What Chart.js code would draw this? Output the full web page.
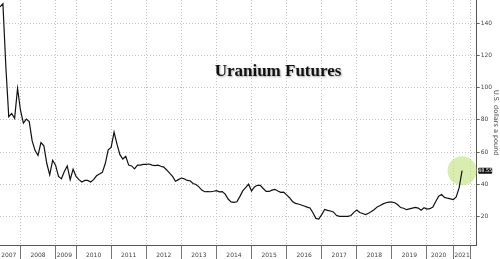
<!DOCTYPE html>
<html>
<head>
<meta charset="utf-8">
<script src="https://cdn.jsdelivr.net/npm/chart.js@4"></script>
<style>
  html, body { margin: 0; padding: 0; background: #fff; }
  #chart { display: block; }
</style>
</head>
<body>
<canvas id="chart" width="500" height="259"></canvas>
<script>
// Uranium futures, U.S. dollars a pound (one value per period, periods grouped by year)
const years = ['2007', '2008', '2009', '2010', '2011', '2012', '2013', '2014',
               '2015', '2016', '2017', '2018', '2019', '2020', '2021', ''];
const periodsPerYear = [7, 12, 7, 12, 12, 12, 12, 12, 12, 12, 12, 12, 12, 9, 6, 3];

const prices = [
  150, 152, 113, 82, 84, 81, 99.5,                                  // 2007
  86, 78, 80.5, 79, 67, 61, 58, 66, 64, 53, 46, 55,                  // 2008
  52, 45, 43.5, 48, 51.5, 43, 49.5,                                  // 2009
  45, 43, 41.5, 42.5, 42.5, 41.5, 43, 45.4, 46.5, 47.5, 53, 61.5,    // 2010
  63, 72.5, 65, 58.5, 55.8, 57.5, 52, 51.5, 49.7, 52, 52, 52.5,      // 2011
  52.5, 52.7, 52, 51.7, 52, 51.3, 50.8, 49, 47, 45, 42, 43,          // 2012
  44, 43.5, 42.5, 42.3, 40.6, 40, 38.5, 36.5, 35.5, 35.6, 35.5, 35.8, // 2013
  36.2, 35.4, 35.6, 34, 31, 29.2, 28.9, 29.3, 32.5, 36, 38, 40.2,    // 2014
  36, 38.5, 39.5, 39.5, 37.5, 35.7, 35.7, 36.5, 37, 36, 35.1, 35.2,  // 2015
  33.6, 31.8, 29.5, 28.3, 27.9, 27.3, 26.7, 26, 25.4, 22.5, 19, 18.6, // 2016
  21.3, 24.5, 24, 23.6, 23, 20.9, 20.3, 20.3, 20.3, 20.3, 20.8, 22.7, // 2017
  24.2, 22.6, 22, 21.4, 22.2, 23.2, 24.5, 26.1, 27, 28, 28.7, 29.1,  // 2018
  29.1, 28.7, 27.4, 25.7, 25.3, 24.4, 24.9, 25.4, 25.8, 25.4, 24, 25.6, // 2019
  24.8, 25, 26, 29.5, 32.8, 33.8, 32, 31.5, 31.1,                    // 2020
  30.6, 32.3, 38, 48.55                                              // 2021
];
const yTicks = [20, 40, 60, 80, 100, 120, 140];
const lastPrice = prices[prices.length - 1];

// build category labels, year boundaries and the tick that carries each year name
const labels = [];
const yearStart = new Set();
const yearLabelAt = {};
let pos = 0;
years.forEach((yr, k) => {
  const n = periodsPerYear[k];
  if (pos > 0) yearStart.add(pos);
  yearLabelAt[Math.floor(pos + n / 2)] = yr;
  for (let m = 0; m < n; m++) labels.push(yr + '-' + (m + 1));
  pos += n;
});

const highlight = prices.map((v, i) => i === prices.length - 1 ? v : null);

const overlay = {
  id: 'overlay',
  afterDraw(chart) {
    const { ctx, scales: { y } } = chart;
    ctx.save();
    ctx.font = 'bold 17px "Liberation Serif", "DejaVu Serif", serif';
    ctx.textAlign = 'center';
    ctx.textBaseline = 'alphabetic';
    ctx.fillStyle = '#111';
    ctx.shadowColor = 'rgba(0,0,0,0.35)';
    ctx.shadowBlur = 2;
    ctx.shadowOffsetX = 1;
    ctx.shadowOffsetY = 1;
    ctx.fillText('Uranium Futures', 278, 76);
    ctx.restore();

    // last value tag on the right axis
    const py = y.getPixelForValue(lastPrice);
    ctx.save();
    ctx.fillStyle = '#111';
    ctx.beginPath();
    ctx.roundRect(y.left + 1.5, py - 3, 14, 6, 1);
    ctx.fill();
    ctx.fillStyle = '#fff';
    ctx.font = '5px "DejaVu Sans", sans-serif';
    ctx.textAlign = 'center';
    ctx.textBaseline = 'middle';
    ctx.fillText(lastPrice.toFixed(2), y.left + 8.5, py + 0.3);
    ctx.restore();
  }
};

new Chart(document.getElementById('chart'), {
  type: 'line',
  data: {
    labels,
    datasets: [{
      data: prices,
      borderColor: '#111',
      borderWidth: 1.2,
      pointRadius: 0,
      tension: 0,
      order: 1
    }, {
      data: highlight,
      showLine: false,
      pointRadius: 14.5,
      pointBorderWidth: 0,
      pointBackgroundColor: 'rgba(190,225,120,0.6)',
      order: 2
    }]
  },
  options: {
    responsive: false,
    animation: false,
    layout: { padding: 0, autoPadding: false },
    plugins: { legend: { display: false }, tooltip: { enabled: false } },
    scales: {
      x: {
        type: 'category',
        offset: false,
        border: { display: true, color: '#555', width: 1, dash: [1, 2] },
        grid: {
          color: c => yearStart.has(c.index) ? '#c4c4c4' : 'rgba(0,0,0,0)',
          tickColor: c => yearStart.has(c.index) ? '#777' : 'rgba(0,0,0,0)',
          tickLength: 14,
          lineWidth: 1
        },
        ticks: {
          autoSkip: false,
          maxRotation: 0,
          minRotation: 0,
          padding: -8,
          color: '#444',
          font: { family: 'DejaVu Sans', size: 6 },
          callback: (v, i) => yearLabelAt[i] || ''
        },
        afterFit: s => { s.height = 13.5; s.paddingLeft = 0; s.paddingRight = 0; }
      },
      y: {
        position: 'right',
        min: 2.2,
        max: 154.3,
        afterBuildTicks: s => { s.ticks = yTicks.map(v => ({ value: v })); },
        border: { display: true, color: '#555', width: 1, dash: [1, 2] },
        grid: { color: '#c4c4c4', lineWidth: 1, tickLength: 3, tickColor: '#666' },
        ticks: {
          padding: 1,
          color: '#444',
          font: { family: 'DejaVu Sans', size: 6 }
        },
        title: {
          display: true,
          text: 'U.S. dollars a pound',
          color: '#444',
          font: { family: 'DejaVu Sans', size: 6.5 },
          padding: { top: 0, bottom: 0 }
        },
        afterFit: s => { s.width = 23.3; s.paddingTop = 0; s.paddingBottom = 0; }
      }
    }
  },
  plugins: [overlay]
});
</script>
</body>
</html>
